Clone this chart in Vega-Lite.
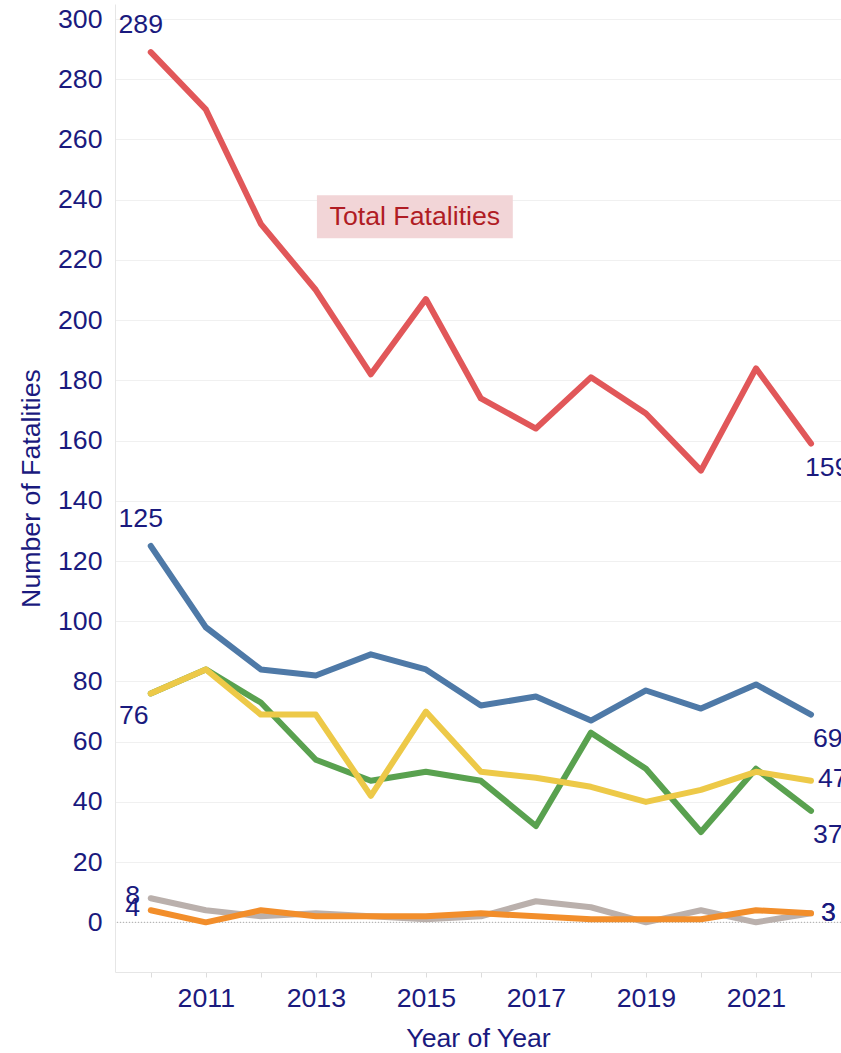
{
  "$schema": "https://vega.github.io/schema/vega-lite/v6.json",
  "width": 726,
  "height": 968,
  "autosize": {"type": "none"},
  "padding": {"left": 115, "top": 4, "right": 0, "bottom": 81},
  "background": "white",
  "config": {
    "view": {"stroke": null},
    "font": "Liberation Sans",
    "text": {"font": "Liberation Sans", "fontSize": 26.7, "color": "#1a1a7e"}
  },
  "datasets": {
    "fatal": [
      {"Year": 2010, "Series": "Total Fatalities", "Value": 289},
      {"Year": 2011, "Series": "Total Fatalities", "Value": 270},
      {"Year": 2012, "Series": "Total Fatalities", "Value": 232},
      {"Year": 2013, "Series": "Total Fatalities", "Value": 210},
      {"Year": 2014, "Series": "Total Fatalities", "Value": 182},
      {"Year": 2015, "Series": "Total Fatalities", "Value": 207},
      {"Year": 2016, "Series": "Total Fatalities", "Value": 174},
      {"Year": 2017, "Series": "Total Fatalities", "Value": 164},
      {"Year": 2018, "Series": "Total Fatalities", "Value": 181},
      {"Year": 2019, "Series": "Total Fatalities", "Value": 169},
      {"Year": 2020, "Series": "Total Fatalities", "Value": 150},
      {"Year": 2021, "Series": "Total Fatalities", "Value": 184},
      {"Year": 2022, "Series": "Total Fatalities", "Value": 159},
      {"Year": 2010, "Series": "Group B", "Value": 125},
      {"Year": 2011, "Series": "Group B", "Value": 98},
      {"Year": 2012, "Series": "Group B", "Value": 84},
      {"Year": 2013, "Series": "Group B", "Value": 82},
      {"Year": 2014, "Series": "Group B", "Value": 89},
      {"Year": 2015, "Series": "Group B", "Value": 84},
      {"Year": 2016, "Series": "Group B", "Value": 72},
      {"Year": 2017, "Series": "Group B", "Value": 75},
      {"Year": 2018, "Series": "Group B", "Value": 67},
      {"Year": 2019, "Series": "Group B", "Value": 77},
      {"Year": 2020, "Series": "Group B", "Value": 71},
      {"Year": 2021, "Series": "Group B", "Value": 79},
      {"Year": 2022, "Series": "Group B", "Value": 69},
      {"Year": 2010, "Series": "Group C", "Value": 76},
      {"Year": 2011, "Series": "Group C", "Value": 84},
      {"Year": 2012, "Series": "Group C", "Value": 73},
      {"Year": 2013, "Series": "Group C", "Value": 54},
      {"Year": 2014, "Series": "Group C", "Value": 47},
      {"Year": 2015, "Series": "Group C", "Value": 50},
      {"Year": 2016, "Series": "Group C", "Value": 47},
      {"Year": 2017, "Series": "Group C", "Value": 32},
      {"Year": 2018, "Series": "Group C", "Value": 63},
      {"Year": 2019, "Series": "Group C", "Value": 51},
      {"Year": 2020, "Series": "Group C", "Value": 30},
      {"Year": 2021, "Series": "Group C", "Value": 51},
      {"Year": 2022, "Series": "Group C", "Value": 37},
      {"Year": 2010, "Series": "Group D", "Value": 76},
      {"Year": 2011, "Series": "Group D", "Value": 84},
      {"Year": 2012, "Series": "Group D", "Value": 69},
      {"Year": 2013, "Series": "Group D", "Value": 69},
      {"Year": 2014, "Series": "Group D", "Value": 42},
      {"Year": 2015, "Series": "Group D", "Value": 70},
      {"Year": 2016, "Series": "Group D", "Value": 50},
      {"Year": 2017, "Series": "Group D", "Value": 48},
      {"Year": 2018, "Series": "Group D", "Value": 45},
      {"Year": 2019, "Series": "Group D", "Value": 40},
      {"Year": 2020, "Series": "Group D", "Value": 44},
      {"Year": 2021, "Series": "Group D", "Value": 50},
      {"Year": 2022, "Series": "Group D", "Value": 47},
      {"Year": 2010, "Series": "Group E", "Value": 8},
      {"Year": 2011, "Series": "Group E", "Value": 4},
      {"Year": 2012, "Series": "Group E", "Value": 2},
      {"Year": 2013, "Series": "Group E", "Value": 3},
      {"Year": 2014, "Series": "Group E", "Value": 2},
      {"Year": 2015, "Series": "Group E", "Value": 1},
      {"Year": 2016, "Series": "Group E", "Value": 2},
      {"Year": 2017, "Series": "Group E", "Value": 7},
      {"Year": 2018, "Series": "Group E", "Value": 5},
      {"Year": 2019, "Series": "Group E", "Value": 0},
      {"Year": 2020, "Series": "Group E", "Value": 4},
      {"Year": 2021, "Series": "Group E", "Value": 0},
      {"Year": 2022, "Series": "Group E", "Value": 3},
      {"Year": 2010, "Series": "Group F", "Value": 4},
      {"Year": 2011, "Series": "Group F", "Value": 0},
      {"Year": 2012, "Series": "Group F", "Value": 4},
      {"Year": 2013, "Series": "Group F", "Value": 2},
      {"Year": 2014, "Series": "Group F", "Value": 2},
      {"Year": 2015, "Series": "Group F", "Value": 2},
      {"Year": 2016, "Series": "Group F", "Value": 3},
      {"Year": 2017, "Series": "Group F", "Value": 2},
      {"Year": 2018, "Series": "Group F", "Value": 1},
      {"Year": 2019, "Series": "Group F", "Value": 1},
      {"Year": 2020, "Series": "Group F", "Value": 1},
      {"Year": 2021, "Series": "Group F", "Value": 4},
      {"Year": 2022, "Series": "Group F", "Value": 3}
    ],
    "note": [
      {"Year": 2013.02, "Year2": 2016.58, "Value": 241.5, "Value2": 227.2, "Mid": 2014.8, "MidValue": 234.3, "Label": "Total Fatalities"}
    ],
    "zero": [{"Value": 0}]
  },
  "layer": [
    {
      "data": {"name": "zero"},
      "mark": {"type": "rule", "color": "#a8a8a8", "strokeWidth": 1, "strokeDash": [1, 2]},
      "encoding": {
        "y": {"field": "Value", "type": "quantitative", "title": "Number of Fatalities",
              "scale": {"domain": [-16.5, 305], "nice": false, "zero": false}}
      }
    },
    {
      "data": {"name": "note"},
      "mark": {"type": "rect", "color": "#f2d5d7"},
      "encoding": {
        "x": {"field": "Year", "type": "quantitative", "title": "Year of Year",
              "scale": {"domain": [2009.35, 2022.545], "nice": false, "zero": false}},
        "x2": {"field": "Year2"},
        "y": {"field": "Value", "type": "quantitative", "title": "Number of Fatalities",
              "scale": {"domain": [-16.5, 305], "nice": false, "zero": false}},
        "y2": {"field": "Value2"}
      }
    },
    {
      "data": {"name": "note"},
      "mark": {"type": "text", "color": "#b01c24", "fontSize": 26.7, "align": "center", "baseline": "middle"},
      "encoding": {
        "x": {"field": "Mid", "type": "quantitative", "title": "Year of Year",
              "scale": {"domain": [2009.35, 2022.545], "nice": false, "zero": false}},
        "y": {"field": "MidValue", "type": "quantitative", "title": "Number of Fatalities",
              "scale": {"domain": [-16.5, 305], "nice": false, "zero": false}},
        "text": {"field": "Label"}
      }
    },
    {
      "data": {"name": "fatal"},
      "mark": {"type": "line", "strokeWidth": 6, "strokeCap": "round", "strokeJoin": "round"},
      "encoding": {
        "x": {"field": "Year", "type": "quantitative", "title": "Year of Year",
              "scale": {"domain": [2009.35, 2022.545], "nice": false, "zero": false},
              "axis": {"values": [2010, 2011, 2012, 2013, 2014, 2015, 2016, 2017, 2018, 2019, 2020, 2021, 2022],
                       "labelExpr": "datum.value % 2 == 1 ? format(datum.value, 'd') : ''",
                       "grid": false, "ticks": true, "tickSize": 5, "tickColor": "#dcdcdc",
                       "domainColor": "#e6e6e6", "labelPadding": 8, "labelFontSize": 26.7,
                       "labelColor": "#1a1a7e", "labelFont": "Liberation Sans", "labelOverlap": false,
                       "labelFlush": false, "labelBound": false,
                       "titleFontSize": 26.7, "titleColor": "#1a1a7e", "titleFont": "Liberation Sans",
                       "titleFontWeight": "normal", "titlePadding": 14}},
        "y": {"field": "Value", "type": "quantitative", "title": "Number of Fatalities",
              "scale": {"domain": [-16.5, 305], "nice": false, "zero": false},
              "axis": {"values": [0, 20, 40, 60, 80, 100, 120, 140, 160, 180, 200, 220, 240, 260, 280, 300],
                       "grid": true, "gridColor": "#f0f0f0", "ticks": false, "domainColor": "#e6e6e6",
                       "labelPadding": 13, "labelFontSize": 26.7, "labelColor": "#1a1a7e",
                       "labelFont": "Liberation Sans", "labelOverlap": false, "labelBound": false, "labelFlush": false,
                       "titleFontSize": 26.7, "titleColor": "#1a1a7e", "titleFont": "Liberation Sans",
                       "titleFontWeight": "normal", "titlePadding": 12}},
        "color": {"field": "Series", "type": "nominal", "legend": null,
                  "scale": {"domain": ["Total Fatalities", "Group B", "Group C", "Group D", "Group E", "Group F"],
                            "range": ["#e15759", "#4e79a7", "#59a14f", "#edc948", "#bab0ac", "#f28e2b"]}}
      }
    },
    {
      "data": {"name": "fatal"},
      "transform": [{"filter": "datum.Year == 2010 && (datum.Series == 'Total Fatalities' || datum.Series == 'Group B')"}],
      "mark": {"type": "text", "align": "center", "baseline": "middle", "dx": -10, "dy": -27},
      "encoding": {
        "x": {"field": "Year", "type": "quantitative", "title": "Year of Year", "scale": {"domain": [2009.35, 2022.545], "nice": false, "zero": false}},
        "y": {"field": "Value", "type": "quantitative", "title": "Number of Fatalities", "scale": {"domain": [-16.5, 305], "nice": false, "zero": false}},
        "text": {"field": "Value", "type": "quantitative"}
      }
    },
    {
      "data": {"name": "fatal"},
      "transform": [{"filter": "datum.Year == 2010 && datum.Series == 'Group C'"}],
      "mark": {"type": "text", "align": "center", "baseline": "middle", "dx": -17, "dy": 23},
      "encoding": {
        "x": {"field": "Year", "type": "quantitative", "title": "Year of Year", "scale": {"domain": [2009.35, 2022.545], "nice": false, "zero": false}},
        "y": {"field": "Value", "type": "quantitative", "title": "Number of Fatalities", "scale": {"domain": [-16.5, 305], "nice": false, "zero": false}},
        "text": {"field": "Value", "type": "quantitative"}
      }
    },
    {
      "data": {"name": "fatal"},
      "transform": [{"filter": "datum.Year == 2010 && (datum.Series == 'Group E' || datum.Series == 'Group F')"}],
      "mark": {"type": "text", "align": "center", "baseline": "middle", "dx": -18, "dy": -2},
      "encoding": {
        "x": {"field": "Year", "type": "quantitative", "title": "Year of Year", "scale": {"domain": [2009.35, 2022.545], "nice": false, "zero": false}},
        "y": {"field": "Value", "type": "quantitative", "title": "Number of Fatalities", "scale": {"domain": [-16.5, 305], "nice": false, "zero": false}},
        "text": {"field": "Value", "type": "quantitative"}
      }
    },
    {
      "data": {"name": "fatal"},
      "transform": [{"filter": "datum.Year == 2022 && datum.Series == 'Total Fatalities'"}],
      "mark": {"type": "text", "align": "left", "baseline": "middle", "dx": -6, "dy": 24},
      "encoding": {
        "x": {"field": "Year", "type": "quantitative", "title": "Year of Year", "scale": {"domain": [2009.35, 2022.545], "nice": false, "zero": false}},
        "y": {"field": "Value", "type": "quantitative", "title": "Number of Fatalities", "scale": {"domain": [-16.5, 305], "nice": false, "zero": false}},
        "text": {"field": "Value", "type": "quantitative"}
      }
    },
    {
      "data": {"name": "fatal"},
      "transform": [{"filter": "datum.Year == 2022 && (datum.Series == 'Group B' || datum.Series == 'Group C')"}],
      "mark": {"type": "text", "align": "left", "baseline": "middle", "dx": 2, "dy": 24},
      "encoding": {
        "x": {"field": "Year", "type": "quantitative", "title": "Year of Year", "scale": {"domain": [2009.35, 2022.545], "nice": false, "zero": false}},
        "y": {"field": "Value", "type": "quantitative", "title": "Number of Fatalities", "scale": {"domain": [-16.5, 305], "nice": false, "zero": false}},
        "text": {"field": "Value", "type": "quantitative"}
      }
    },
    {
      "data": {"name": "fatal"},
      "transform": [{"filter": "datum.Year == 2022 && datum.Series == 'Group D'"}],
      "mark": {"type": "text", "align": "left", "baseline": "middle", "dx": 7, "dy": -2},
      "encoding": {
        "x": {"field": "Year", "type": "quantitative", "title": "Year of Year", "scale": {"domain": [2009.35, 2022.545], "nice": false, "zero": false}},
        "y": {"field": "Value", "type": "quantitative", "title": "Number of Fatalities", "scale": {"domain": [-16.5, 305], "nice": false, "zero": false}},
        "text": {"field": "Value", "type": "quantitative"}
      }
    },
    {
      "data": {"name": "fatal"},
      "transform": [{"filter": "datum.Year == 2022 && (datum.Series == 'Group E' || datum.Series == 'Group F')"}],
      "mark": {"type": "text", "align": "left", "baseline": "middle", "dx": 10, "dy": 0},
      "encoding": {
        "x": {"field": "Year", "type": "quantitative", "title": "Year of Year", "scale": {"domain": [2009.35, 2022.545], "nice": false, "zero": false}},
        "y": {"field": "Value", "type": "quantitative", "title": "Number of Fatalities", "scale": {"domain": [-16.5, 305], "nice": false, "zero": false}},
        "text": {"field": "Value", "type": "quantitative"}
      }
    }
  ]
}
